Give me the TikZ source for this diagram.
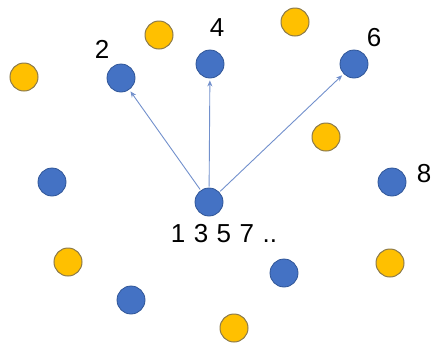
\documentclass[tikz,border=0pt]{standalone}
\usepackage{fontspec}
\setmainfont{Liberation Sans}
\usetikzlibrary{arrows.meta}
\definecolor{bfill}{HTML}{4472C4}
\definecolor{bline}{HTML}{2F5597}
\definecolor{yfill}{HTML}{FFC000}
\definecolor{yline}{HTML}{8C7A4A}
\definecolor{arr}{HTML}{7290CC}
\tikzset{
  bdot/.style={circle, fill=bfill, draw=bline, line width=0.8pt, minimum size=28pt, inner sep=0pt},
  ydot/.style={circle, fill=yfill, draw=yline, line width=1pt, minimum size=28pt, inner sep=0pt},
  lbl/.style={font=\fontsize{26}{30}\selectfont, inner sep=0pt, text=black},
  con/.style={draw=arr, line width=0.9pt, -{Stealth[length=6pt,width=5pt]}, shorten >=2pt, shorten <=1pt}
}
\newcommand{\gapsp}{\hspace{8.5pt}}
\begin{document}
\begin{tikzpicture}[x=1pt,y=-1pt]
\useasboundingbox (0,0) rectangle (433,346);
% blue
\node[bdot] (b2) at (121,78) {};
\node[bdot] (b4) at (210,64) {};
\node[bdot] (b6) at (354,64) {};
\node[bdot] (bl) at (52,182) {};
\node[bdot] (b8) at (392,182) {};
\node[bdot] (bc) at (209,202) {};
\node[bdot] (br) at (284,273) {};
\node[bdot] (bb) at (131,300) {};
% yellow
\node[ydot] (y1) at (159,35) {};
\node[ydot] (y2) at (295,22) {};
\node[ydot] (y3) at (24,77) {};
\node[ydot] (y4) at (326,137) {};
\node[ydot] (y5) at (68,262) {};
\node[ydot] (y6) at (390,263) {};
\node[ydot] (y7) at (234,328) {};
% labels
\node[lbl] (t2) at (102,49) {2};
\node[lbl] (t4) at (217,28) {4};
\node[lbl] (t6) at (374,38) {6};
\node[lbl] (t8) at (424,174) {8};
\node[lbl] (tc) at (224,234) {1\gapsp3\gapsp5\gapsp7\gapsp..};
% arrows
\draw[con] (bc) -- (b2);
\draw[con] (bc) -- (b4);
\draw[con] (bc) -- (b6);
\end{tikzpicture}
\end{document}
